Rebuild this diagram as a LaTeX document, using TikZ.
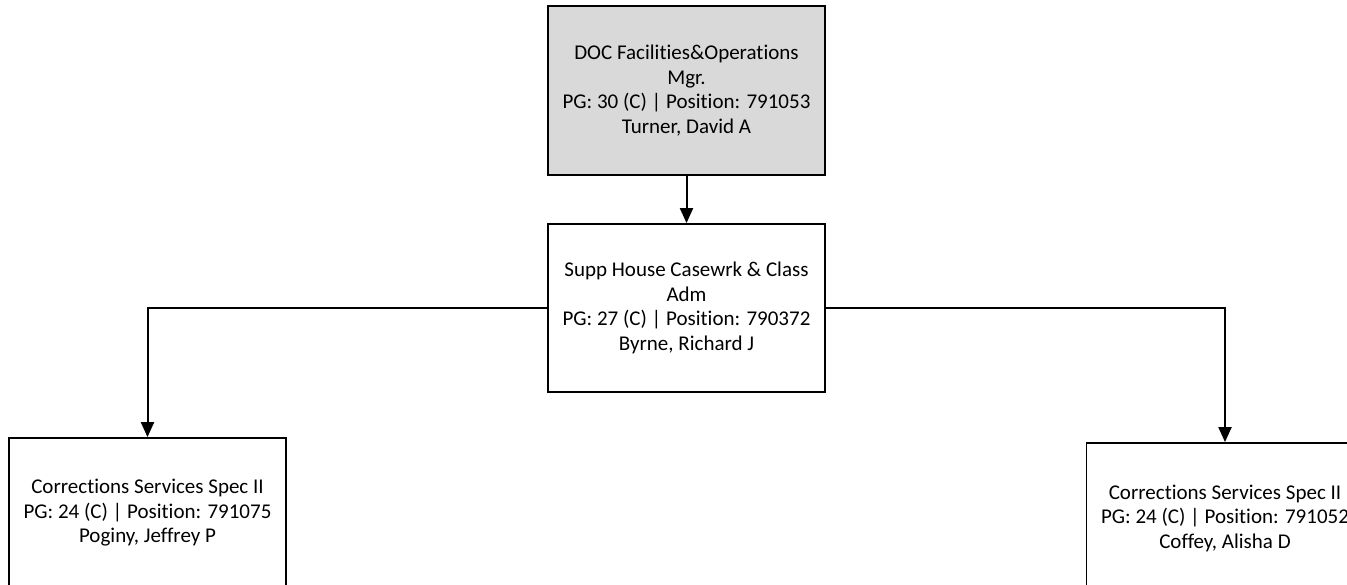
\documentclass[tikz,border=0pt]{standalone}
\usepackage{fontspec}
\setmainfont{Carlito}[Ligatures=NoCommon]
\usetikzlibrary{arrows.meta}
\tikzset{
  poste/.style={draw, line width=1.8pt, minimum width=277pt, align=center, inner sep=0pt,
    font=\fontsize{21}{24.5}\selectfont},
  lien/.style={line width=2pt, -{Triangle[length=15pt, width=13pt]}}
}
\begin{document}
\begin{tikzpicture}[x=1pt, y=-1pt]
  \useasboundingbox (0,0) rectangle (1347,584);
  \clip (0,0) rectangle (1347,584);
  %direction
  \node[poste, fill=gray!30, minimum height=169pt] (mgr) at (686.5,90.5)
    {DOC Facilities\&Operations\\Mgr.\\PG: 30 (C) | Position: 791053\\Turner, David A};
  \node[poste, fill=white, minimum height=168pt] (adm) at (686.5,308)
    {Supp House Casewrk \& Class\\Adm\\PG: 27 (C) | Position: 790372\\Byrne, Richard J};
  %specialistes
  \node[poste, fill=white, minimum height=150pt] (specA) at (147.5,513)
    {Corrections Services Spec II\\PG: 24 (C) | Position: 791075\\Poginy, Jeffrey P};
  \node[poste, fill=white, minimum height=150pt] (specB) at (1225,518)
    {Corrections Services Spec II\\PG: 24 (C) | Position: 791052\\Coffey, Alisha D};
  %liens
  \draw[lien] (mgr) -- (adm);
  \draw[lien] (adm.west) -| (specA);
  \draw[lien] (adm.east) -| (specB);
\end{tikzpicture}
\end{document}
